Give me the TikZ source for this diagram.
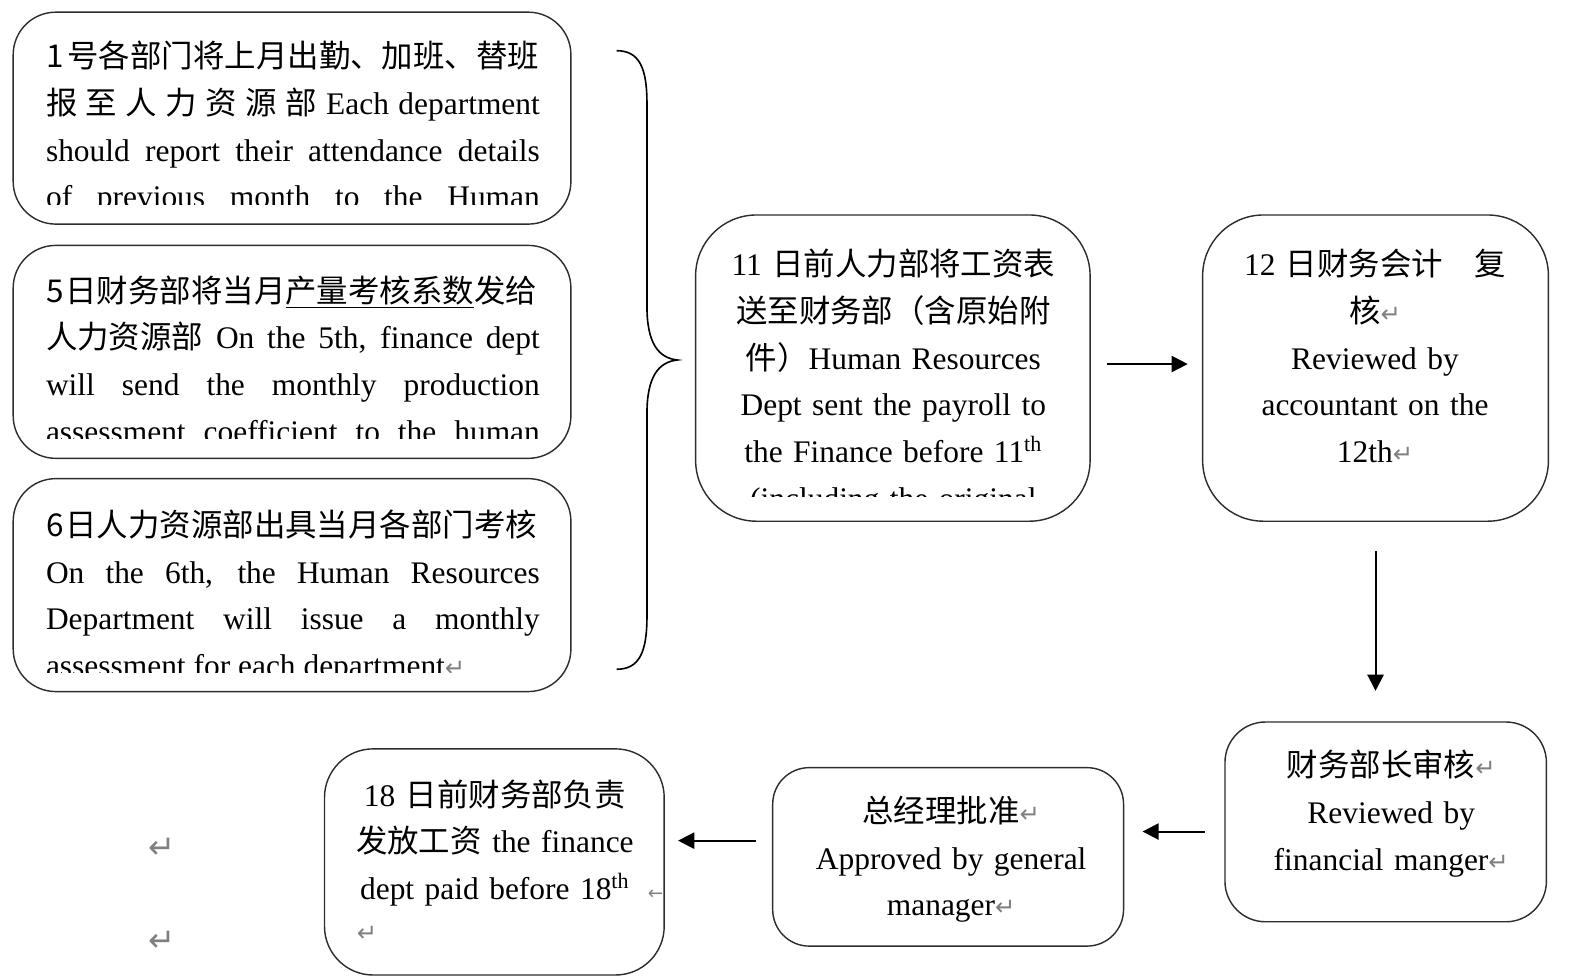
\documentclass[tikz,border=0pt]{standalone}
\usepackage{fontspec}
\setmainfont{Liberation Serif}
\newfontfamily\cjk{Noto Sans CJK SC}
\newfontfamily\symf{DejaVu Sans}
\usetikzlibrary{arrows.meta}
\definecolor{retgray}{RGB}{128,128,128}
\definecolor{edgegray}{RGB}{45,45,45}
\newcommand\zh[1]{{\cjk #1}}
\newcommand\ret{{\symf\fontsize{12}{12}\selectfont\color{retgray}↵}}
\newcommand\bigret{{\symf\fontsize{16}{16}\selectfont\color{retgray}↵}}
\newcommand\smallarr{{\symf\fontsize{9}{9}\selectfont\color{retgray}←}}

\begin{document}
\begin{tikzpicture}[x=0.5pt,y=-0.5pt,
  flowbox/.style={draw=edgegray,line width=0.7pt,inner sep=0pt},
  bodytext/.style={inner sep=0pt,font=\fontsize{15.5}{23}\selectfont},
  lefttext/.style={bodytext,text width=243.5pt,align=justify,anchor=base west},
  midtext/.style={bodytext,text width=200pt,align=center,anchor=base},
  flowarrow/.style={-{Triangle[length=8pt,width=8pt]},line width=1pt}]
\useasboundingbox (0,0) rectangle (1568,964.5);

\node[flowbox,rounded corners=21pt,minimum width=275pt,minimum height=104.5pt] (attend) at (288,116.5) {};
\node[flowbox,rounded corners=21pt,minimum width=275pt,minimum height=105pt] (coeff) at (288,347) {};
\node[flowbox,rounded corners=21pt,minimum width=275pt,minimum height=105pt] (assess) at (288,577) {};
\node[flowbox,rounded corners=30pt,minimum width=194.5pt,minimum height=151pt] (payroll) at (880.5,363) {};
\node[flowbox,rounded corners=30pt,minimum width=170.5pt,minimum height=151pt] (review) at (1356.5,363) {};
\node[flowbox,rounded corners=20pt,minimum width=158.5pt,minimum height=98.5pt] (chiefok) at (1366.5,810.5) {};
\node[flowbox,rounded corners=18pt,minimum width=173pt,minimum height=88pt] (gmok) at (935,845) {};
\node[flowbox,rounded corners=24pt,minimum width=167.5pt,minimum height=111.5pt] (paid) at (487.5,850) {};

\begin{scope}
  \clip (13,12) rectangle (563,202);
  \node[lefttext] (attendtxt) at (45,67) {
    \zh{1\hspace{2pt}号各部门将上月出勤、加班、替班}\linebreak
    \zh{报 至 人 力 资 源 部} Each department\linebreak
    should report their attendance details\linebreak
    of previous month to the Human\linebreak};
\end{scope}
\begin{scope}
  \clip (13,242) rectangle (563,432);
  \node[lefttext] (coefftxt) at (45,298) {
    \zh{5\hspace{1pt}日财务部将当月\underline{产量考核系数}发给}\linebreak
    \zh{人力资源部} On the 5th, finance dept\linebreak
    will send the monthly production\linebreak
    assessment coefficient to the human\linebreak};
\end{scope}
\begin{scope}
  \clip (13,472) rectangle (563,663);
  \node[lefttext] (assesstxt) at (45,529) {
    \zh{6\hspace{1pt}日人力资源部出具当月各部门考核}\linebreak
    On the 6th, the Human Resources\linebreak
    Department will issue a monthly\linebreak
    assessment for each department\ret};
\end{scope}
\begin{scope}
  \clip (686,212) rectangle (1075,490);
  \node[midtext] (payrolltxt) at (881,272) {11 \zh{日前人力部将工资表}\\
    \zh{送至财务部（含原始附}\\
    \zh{件）}Human Resources\\
    Dept sent the payroll to\\
    the Finance before 11\textsuperscript{th}\\
    (including the original};
\end{scope}
\node[midtext] (reviewtxt) at (1356,272) {12 \zh{日财务会计　复}\\
  \zh{核}\ret\\
  Reviewed by\\
  accountant on the\\
  12th\ret};
\node[midtext] (chiefoktxt) at (1372,766) {\zh{财务部长审核}\ret\\
  Reviewed by\\
  financial manger\ret};
\node[midtext] (gmoktxt) at (938,811) {\zh{总经理批准}\ret\\
  Approved by general\\
  manager\ret};
\node[midtext] (paidtxt) at (488,795) {18 \zh{日前财务部负责}\\
  \zh{发放工资} the finance\\
  dept paid before 18\textsuperscript{th}\rlap{\hspace{9pt}\smallarr}};
\node[inner sep=0pt] (paidret) at (362,921) {\ret};
\node[inner sep=0pt] (strayret1) at (160,837) {\bigret};
\node[inner sep=0pt] (strayret2) at (160,928) {\bigret};

\draw[line width=0.8pt] (608,50) .. controls (630,50) and (638,66) .. (638,102) -- (638,302)
  .. controls (638,338) and (649,353) .. (668,355) .. controls (649,357) and (638,372) .. (638,408)
  -- (638,608) .. controls (638,644) and (630,660) .. (608,660);

\draw[flowarrow,shorten <=8pt,shorten >=7pt] ([yshift=2pt]payroll.east) -- ([yshift=2pt]payroll.east -| review.west);
\draw[flowarrow,shorten <=14.5pt,shorten >=15pt] (review.south) -- (review.south |- chiefok.north);
\draw[flowarrow,shorten <=9.5pt,shorten >=9pt] ([yshift=-4.75pt]chiefok.west) -- ([yshift=-4.75pt]chiefok.west -| gmok.east);
\draw[flowarrow,shorten <=8pt,shorten >=6.5pt] ([yshift=8pt]gmok.west) -- ([yshift=8pt]gmok.west -| paid.east);
\end{tikzpicture}
\end{document}
